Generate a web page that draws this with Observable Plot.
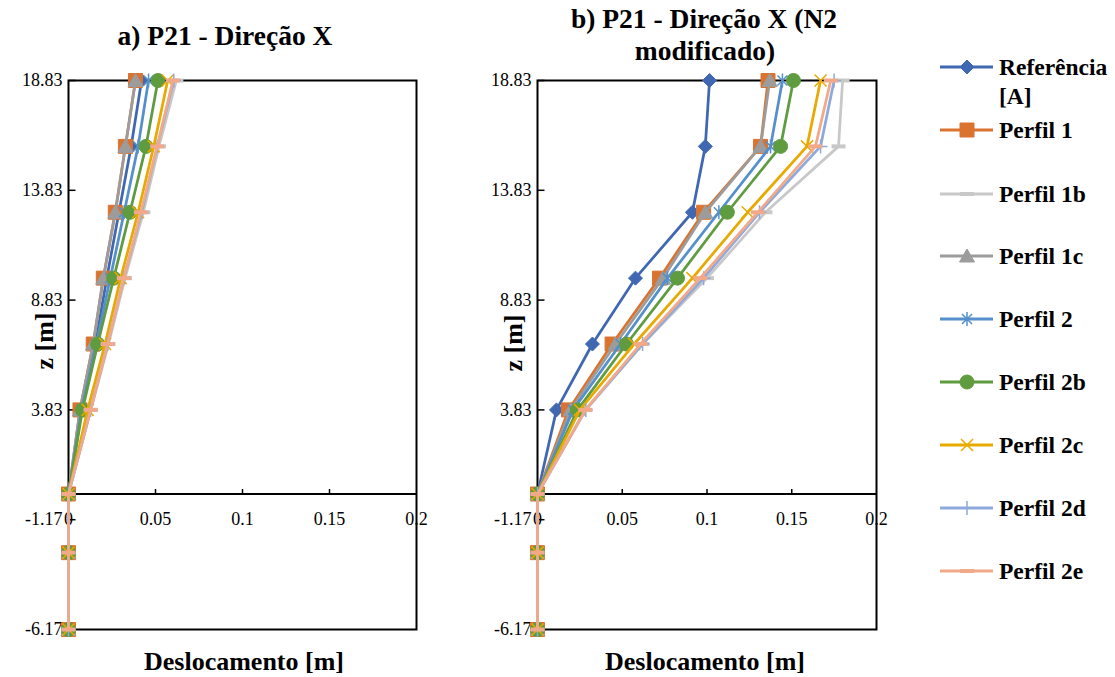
<!DOCTYPE html>
<html><head><meta charset="utf-8">
<script src="https://cdn.jsdelivr.net/npm/d3@7"></script>
<script src="https://cdn.jsdelivr.net/npm/@observablehq/plot@0.6"></script>
<style>
body{margin:0;background:#fff;}
#root{position:relative;width:1115px;height:677px;overflow:hidden;background:#fff;font-family:'Liberation Serif','Times New Roman',serif;}
#root > svg{position:absolute;}
</style></head>
<body><div id="root"></div>
<script>
// ---- data ----
const levels = [18.83, 15.83, 12.83, 9.83, 6.83, 3.83, 0, -2.67, -6.17];
const yTicks = [-6.17, -1.17, 3.83, 8.83, 13.83, 18.83];
const xTicks = [0, 0.05, 0.1, 0.15, 0.2];
const seriesNames = ["Referência [A]", "Perfil 1", "Perfil 1b", "Perfil 1c", "Perfil 2", "Perfil 2b", "Perfil 2c", "Perfil 2d", "Perfil 2e"];
const seriesColors = ["#4068B2", "#DB7330", "#C8C8C8", "#9C9C9C", "#5590CC", "#5F9B3F", "#E8A900", "#8EA9DB", "#F2A98A"];

// panel a) P21 - Direção X
const a_ref = [0.042, 0.036, 0.029, 0.022, 0.0155, 0.0075, 0, 0, 0];
const a_p1  = [0.0385, 0.0327, 0.0269, 0.020, 0.0142, 0.0066, 0, 0, 0];
const a_p1b = [0.062, 0.052, 0.043, 0.0325, 0.023, 0.0128, 0, 0, 0];
const a_p1c = [0.0385, 0.0327, 0.0269, 0.020, 0.0142, 0.0066, 0, 0, 0];
const a_p2  = [0.046, 0.040, 0.032, 0.024, 0.016, 0.0075, 0, 0, 0];
const a_p2b = [0.0514, 0.0445, 0.0353, 0.026, 0.0168, 0.008, 0, 0, 0];
const a_p2c = [0.057, 0.049, 0.040, 0.030, 0.021, 0.011, 0, 0, 0];
const a_p2d = [0.0605, 0.051, 0.042, 0.0318, 0.0225, 0.0127, 0, 0, 0];
const a_p2e = [0.060, 0.051, 0.0416, 0.0318, 0.0225, 0.0127, 0, 0, 0];

// panel b) P21 - Direção X (N2 modificado)
const b_ref = [0.1015, 0.099, 0.0914, 0.0578, 0.0324, 0.0112, 0, 0, 0];
const b_p1  = [0.136, 0.1316, 0.098, 0.072, 0.044, 0.0183, 0, 0, 0];
const b_p1b = [0.180, 0.1776, 0.1345, 0.100, 0.062, 0.028, 0, 0, 0];
const b_p1c = [0.137, 0.1316, 0.099, 0.074, 0.046, 0.0195, 0, 0, 0];
const b_p2  = [0.1445, 0.1375, 0.107, 0.0767, 0.049, 0.021, 0, 0, 0];
const b_p2b = [0.151, 0.1434, 0.112, 0.0826, 0.0525, 0.0236, 0, 0, 0];
const b_p2c = [0.167, 0.159, 0.124, 0.0914, 0.057, 0.025, 0, 0, 0];
const b_p2d = [0.175, 0.167, 0.131, 0.098, 0.062, 0.0285, 0, 0, 0];
const b_p2e = [0.173, 0.164, 0.130, 0.096, 0.0608, 0.0283, 0, 0, 0];

const FONT = "Liberation Serif";

// ---- symbols ----
const symDiamond = {draw(c){const r=7;c.moveTo(0,-r);c.lineTo(r,0);c.lineTo(0,r);c.lineTo(-r,0);c.closePath();}};
const symSquare = {draw(c){const r=7;c.moveTo(-r,-r);c.lineTo(r,-r);c.lineTo(r,r);c.lineTo(-r,r);c.closePath();}};
const symDash = {draw(c){c.moveTo(-7,0);c.lineTo(7,0);}};
const symTriangle = {draw(c){c.moveTo(0,-7);c.lineTo(7.5,6);c.lineTo(-7.5,6);c.closePath();}};
const symAsterisk = {draw(c){const r=7,d=5;c.moveTo(0,-r);c.lineTo(0,r);c.moveTo(-d,-d);c.lineTo(d,d);c.moveTo(-d,d);c.lineTo(d,-d);}};
const symCircle = {draw(c){c.moveTo(7,0);c.arc(0,0,7,0,2*Math.PI);c.closePath();}};
const symX = {draw(c){const d=6;c.moveTo(-d,-d);c.lineTo(d,d);c.moveTo(-d,d);c.lineTo(d,-d);}};
const symPlus = {draw(c){const r=7;c.moveTo(0,-r);c.lineTo(0,r);c.moveTo(-r,0);c.lineTo(r,0);}};
const symHTick = {draw(c){c.moveTo(0,0);c.lineTo(7,0);}};
const symVTick = {draw(c){c.moveTo(0,0);c.lineTo(0,-5);}};

// style per series: [symbol, filled?, strokeWidth]
const seriesSyms = [
  [symDiamond, true, 1], [symSquare, true, 1], [symDash, false, 4], [symTriangle, true, 1],
  [symAsterisk, false, 1.5], [symCircle, true, 1], [symX, false, 1.5], [symPlus, false, 1.5], [symDash, false, 4]
];

function makePanel(series, opts) {
  const marks = [
    Plot.frame({stroke: "black", strokeWidth: 2}),
    Plot.ruleY([0], {stroke: "black", strokeWidth: 2}),
    Plot.dot(yTicks, {x: 0, y: d => d, symbol: symHTick, stroke: "black", strokeWidth: 1.5}),
    Plot.dot(xTicks.slice(1, -1), {x: d => d, y: 0, symbol: symVTick, stroke: "black", strokeWidth: 1.5}),
    Plot.text(xTicks, {x: d => d, y: 0, dy: 25, text: d => String(d), fontSize: 18, fill: "black", fontFamily: FONT}),
    Plot.axisY({ticks: yTicks, tickSize: 0, tickPadding: 6, tickFormat: d => d.toFixed(2), fontSize: 18, label: null, color: "black", fontFamily: FONT})
  ];
  series.forEach((vals, i) => {
    const data = vals.map((d, k) => ({d, z: levels[k]}));
    const col = seriesColors[i];
    const [sym, filled, sw] = seriesSyms[i];
    marks.push(Plot.line(data, {x: "d", y: "z", stroke: col, strokeWidth: 2.75}));
    marks.push(Plot.dot(data, {x: "d", y: "z", symbol: sym, fill: filled ? col : "none", stroke: col, strokeWidth: sw}));
  });
  const p = Plot.plot({
    width: opts.width, height: 677,
    marginTop: 80, marginBottom: 48, marginLeft: opts.ml, marginRight: opts.mr,
    x: {domain: [0, 0.2], axis: null},
    y: {domain: [-6.17, 18.83], axis: null},
    style: {fontFamily: FONT, color: "black", background: "transparent", overflow: "visible"},
    marks
  });
  p.style.left = opts.left + "px";
  p.style.top = "0px";
  return p;
}

const root = document.getElementById("root");
root.appendChild(makePanel([a_ref, a_p1, a_p1b, a_p1c, a_p2, a_p2b, a_p2c, a_p2d, a_p2e], {left: 0, width: 470, ml: 68, mr: 54}));
root.appendChild(makePanel([b_ref, b_p1, b_p1b, b_p1c, b_p2, b_p2b, b_p2c, b_p2d, b_p2e], {left: 470, width: 460, ml: 67, mr: 54}));

// ---- overlay: titles, axis labels, legend ----
const ov = d3.select(root).append("svg").attr("width", 1115).attr("height", 677)
  .style("left", "0px").style("top", "0px").style("pointer-events", "none")
  .attr("font-family", FONT).attr("font-weight", "bold").attr("fill", "black");

ov.append("text").attr("x", 225).attr("y", 35).attr("dy", "0.35em").attr("text-anchor", "middle").attr("font-size", 27.5).text("a) P21 - Direção X");
ov.append("text").attr("x", 704).attr("y", 18).attr("dy", "0.35em").attr("text-anchor", "middle").attr("font-size", 27.5).text("b) P21 - Direção X (N2");
ov.append("text").attr("x", 705).attr("y", 50).attr("dy", "0.35em").attr("text-anchor", "middle").attr("font-size", 27.5).text("modificado)");

ov.append("text").attr("x", 244).attr("y", 661).attr("dy", "0.35em").attr("text-anchor", "middle").attr("font-size", 26).text("Deslocamento [m]");
ov.append("text").attr("x", 705).attr("y", 661).attr("dy", "0.35em").attr("text-anchor", "middle").attr("font-size", 26).text("Deslocamento [m]");
ov.append("text").attr("transform", "translate(44,341) rotate(-90)").attr("dy", "0.35em").attr("text-anchor", "middle").attr("font-size", 26).text("z [m]");
ov.append("text").attr("transform", "translate(513,343) rotate(-90)").attr("dy", "0.35em").attr("text-anchor", "middle").attr("font-size", 26).text("z [m]");

const legendY = [67, 130, 194, 256, 319, 382, 445, 508, 571];
seriesNames.forEach((name, i) => {
  const g = ov.append("g").attr("transform", `translate(0,${legendY[i]})`);
  const col = seriesColors[i];
  const [sym, filled, sw] = seriesSyms[i];
  g.append("line").attr("x1", 940).attr("x2", 993).attr("y1", 0).attr("y2", 0).attr("stroke", col).attr("stroke-width", 3);
  const pth = d3.path(); sym.draw(pth, 0);
  g.append("path").attr("transform", "translate(967,0)").attr("d", pth.toString())
    .attr("fill", filled ? col : "none").attr("stroke", col).attr("stroke-width", sw);
  if (i === 0) {
    g.append("text").attr("x", 999).attr("y", 0).attr("dy", "0.35em").attr("font-size", 23.5).text("Referência");
    g.append("text").attr("x", 999).attr("y", 29).attr("dy", "0.35em").attr("font-size", 23.5).text("[A]");
  } else {
    g.append("text").attr("x", 999).attr("y", 0).attr("dy", "0.35em").attr("font-size", 23.5).text(name);
  }
});
</script>
</body></html>
